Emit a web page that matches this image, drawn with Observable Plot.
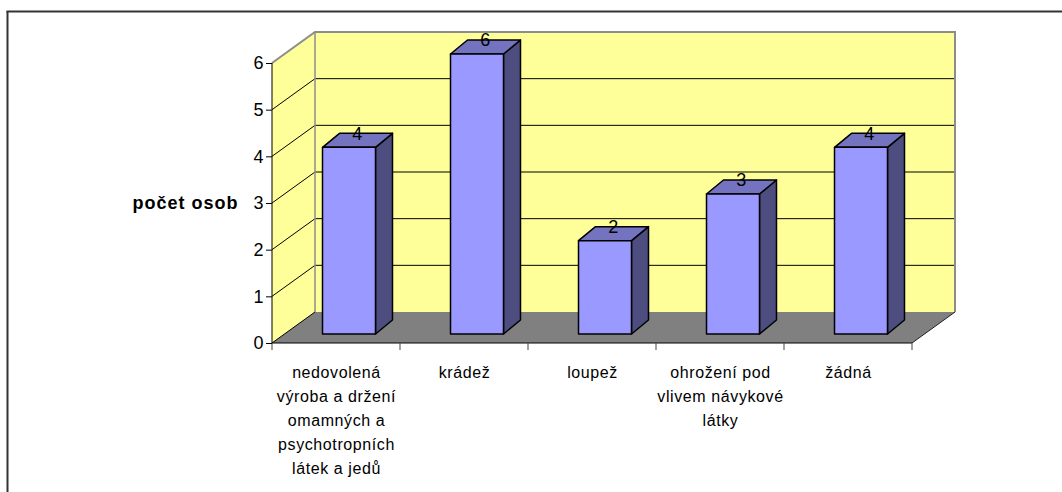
<!DOCTYPE html>
<html>
<head>
<meta charset="utf-8">
<script src="https://cdn.jsdelivr.net/npm/d3@7"></script>
<script src="https://cdn.jsdelivr.net/npm/@observablehq/plot@0.6"></script>
<style>
  html, body { margin: 0; padding: 0; background: #fff; }
  #chart { width: 1062px; height: 492px; overflow: hidden; }
  #chart svg { display: block; }
  #chart .cat text { letter-spacing: 0.6px; }
  #chart .ylab text { letter-spacing: 1px; }
  #chart .vals text { letter-spacing: 0.5px; }
</style>
</head>
<body>
<div id="chart"></div>
<script>
// ---- data ----
const categories = [
  "nedovolená\nvýroba a držení\nomamných a\npsychotropních\nlátek a jedů",
  "krádež",
  "loupež",
  "ohrožení pod\nvlivem návykové\nlátky",
  "žádná"
];
const values = [4, 6, 2, 3, 4];
const yTicks = [0, 1, 2, 3, 4, 5, 6];
const yLabel = "počet osob";

// ---- styles / 3D geometry (pixels) ----
const WALL = "#ffff99", FLOOR = "#808080";
const BAR_FRONT = "#9999ff", BAR_TOP = "#7373c0", BAR_SIDE = "#4d4d80";
const DX = 43, DY = 31;          // wall depth
const BFX = 13, BFY = 9;         // bar front offset into depth
const BDX = 17, BDY = 14;        // bar depth
const BAR_RATIO = 0.414;

const rows = categories.map((c, i) => ({cat: c, value: values[i]}));

function scene(index, scales) {
  const {x, y} = scales;
  const bw = x.bandwidth();
  const X0 = x(categories[0]);
  const X1 = x(categories[categories.length - 1]) + bw;
  const Y0 = y(0), YT = y(yTicks[yTicks.length - 1]);
  const g = d3.create("svg:g");
  const pts = a => a.map(p => p.join(",")).join(" ");
  const poly = (a, fill, stroke, sw) => g.append("polygon").attr("points", pts(a))
    .attr("fill", fill).attr("stroke", stroke || "none").attr("stroke-width", sw || 1)
    .attr("stroke-linejoin", "round");
  const line = (x1, y1, x2, y2, stroke, sw) => g.append("line")
    .attr("x1", x1).attr("y1", y1).attr("x2", x2).attr("y2", y2)
    .attr("stroke", stroke).attr("stroke-width", sw || 1);

  // walls
  poly([[X0, Y0], [X0, YT], [X0 + DX, YT - DY], [X0 + DX, Y0 - DY]], WALL);
  poly([[X0 + DX, Y0 - DY], [X0 + DX, YT - DY], [X1 + DX, YT - DY], [X1 + DX, Y0 - DY]], WALL);
  // gridlines
  yTicks.filter(v => v > 0 && v < yTicks[yTicks.length - 1]).forEach(v => {
    line(X0, y(v), X0 + DX, y(v) - DY, "#000", 1);
    line(X0 + DX, y(v) - DY, X1 + DX, y(v) - DY, "#000", 1);
  });
  // wall borders
  g.append("polyline").attr("points", pts([[X0, YT], [X0 + DX, YT - DY], [X1 + DX, YT - DY], [X1 + DX, Y0 - DY]]))
    .attr("fill", "none").attr("stroke", "#8c8c8c").attr("stroke-width", 2);
  line(X0 + DX, YT - DY, X0 + DX, Y0 - DY, "#8c8c8c", 1.5);
  // floor
  poly([[X0, Y0], [X1, Y0], [X1 + DX, Y0 - DY], [X0 + DX, Y0 - DY]], FLOOR);
  line(X0, Y0, X0 + DX, Y0 - DY, "#000", 1);
  line(X1, Y0, X1 + DX, Y0 - DY, "#222", 1);
  // axes lines
  line(X0, YT, X0, Y0, "#000", 1);
  line(X0, Y0, X1, Y0, "#000", 1);
  // x ticks at band edges
  categories.forEach(c => line(x(c), Y0, x(c), Y0 + 7, "#444", 1));
  line(X1, Y0, X1, Y0 + 7, "#444", 1);

  // bars
  const BW = bw * BAR_RATIO;
  rows.forEach(d => {
    const bx = x(d.cat) + (bw - BW) / 2 + BFX;
    const yb = Y0 - BFY, yt = y(d.value) - BFY;
    poly([[bx + BW, yt], [bx + BW + BDX, yt - BDY], [bx + BW + BDX, yb - BDY], [bx + BW, yb]], BAR_SIDE, "#000", 1.5);
    poly([[bx, yt], [bx + BDX, yt - BDY], [bx + BW + BDX, yt - BDY], [bx + BW, yt]], BAR_TOP, "#000", 1.5);
    poly([[bx, yt], [bx + BW, yt], [bx + BW, yb], [bx, yb]], BAR_FRONT, "#000", 1.5);
  });
  return g.node();
}

const chart = Plot.plot({
  width: 1062,
  height: 492,
  marginLeft: 272,
  marginRight: 150,
  marginTop: 63,
  marginBottom: 149,
  style: {fontFamily: "Arial, 'Liberation Sans', sans-serif", background: "#fff", color: "#000"},
  x: {type: "band", domain: categories, padding: 0, axis: null},
  y: {domain: [0, 6], axis: null},
  marks: [
    scene,
    Plot.axisY({ticks: yTicks, tickFormat: d => String(d), tickSize: 6, tickPadding: 3, fontSize: 18, label: null, stroke: "#000"}),
    Plot.text([yLabel], {frameAnchor: "left", textAnchor: "end", dx: -34, fontWeight: "bold", fontSize: 18, className: "ylab"}),
    Plot.text(rows, {x: "cat", y: "value", text: d => String(d.value), dx: 21, dy: -23, fontSize: 18, fill: "#000", className: "vals"}),
    Plot.text(categories, {x: d => d, text: d => d, frameAnchor: "bottom", lineAnchor: "top", dy: 17, lineHeight: 1.5, fontSize: 16, fill: "#000", className: "cat"})
  ]
});

// outer frame (only top & left edges visible in the crop)
const svg = d3.select(chart.tagName.toLowerCase() === "svg" ? chart : chart.querySelector("svg"));
svg.append("line").attr("x1", 6.5).attr("y1", 11.5).attr("x2", 1062).attr("y2", 11.5).attr("stroke", "#333").attr("stroke-width", 2);
svg.append("line").attr("x1", 7.5).attr("y1", 11).attr("x2", 7.5).attr("y2", 492).attr("stroke", "#333").attr("stroke-width", 2);

document.getElementById("chart").appendChild(chart);
</script>
</body>
</html>
